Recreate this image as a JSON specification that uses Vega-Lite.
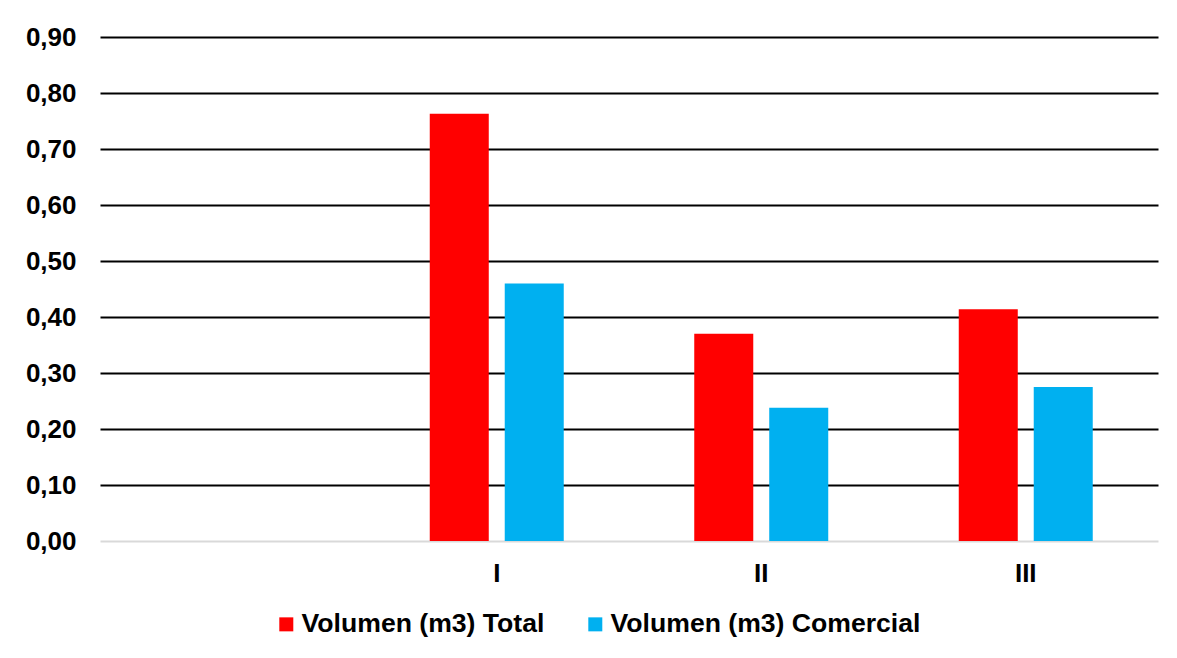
{
  "$schema": "https://vega.github.io/schema/vega-lite/v6.json",
  "width": 1058,
  "height": 504,
  "autosize": {"type": "none"},
  "padding": {"left": 100, "top": 37, "right": 19, "bottom": 117},
  "background": "white",
  "data": {
    "values": [
      {"clase": "I", "serie": "Volumen (m3) Total", "valor": 0.763},
      {"clase": "I", "serie": "Volumen (m3) Comercial", "valor": 0.46},
      {"clase": "II", "serie": "Volumen (m3) Total", "valor": 0.37},
      {"clase": "II", "serie": "Volumen (m3) Comercial", "valor": 0.238},
      {"clase": "III", "serie": "Volumen (m3) Total", "valor": 0.414},
      {"clase": "III", "serie": "Volumen (m3) Comercial", "valor": 0.275}
    ]
  },
  "mark": {"type": "bar"},
  "encoding": {
    "x": {
      "field": "clase",
      "type": "nominal",
      "title": null,
      "scale": {"domain": ["", "I", "II", "III"], "paddingInner": 0.4934, "paddingOuter": 0.2467},
      "axis": {
        "labelAngle": 0,
        "ticks": false,
        "domain": false,
        "labelPadding": 19,
        "labelFont": "Liberation Sans",
        "labelFontWeight": "bold",
        "labelFontSize": 26,
        "labelColor": "black"
      }
    },
    "xOffset": {
      "field": "serie",
      "type": "nominal",
      "sort": ["Volumen (m3) Total", "Volumen (m3) Comercial"],
      "scale": {"paddingInner": 0.213, "paddingOuter": 0}
    },
    "y": {
      "field": "valor",
      "type": "quantitative",
      "title": null,
      "scale": {"domain": [0, 0.9], "nice": false},
      "axis": {
        "values": [0, 0.1, 0.2, 0.3, 0.4, 0.5, 0.6, 0.7, 0.8, 0.9],
        "labelExpr": "replace(format(datum.value, '.2f'), '.', ',')",
        "ticks": false,
        "domain": false,
        "labelPadding": 24,
        "labelFont": "Liberation Sans",
        "labelFontWeight": "bold",
        "labelFontSize": 26,
        "labelColor": "black",
        "grid": true,
        "gridWidth": 2,
        "gridColor": {"condition": {"test": "datum.value === 0", "value": "#d9d9d9"}, "value": "black"},
        "gridOpacity": 1
      }
    },
    "color": {
      "field": "serie",
      "type": "nominal",
      "sort": ["Volumen (m3) Total", "Volumen (m3) Comercial"],
      "scale": {"domain": ["Volumen (m3) Total", "Volumen (m3) Comercial"], "range": ["#ff0000", "#00b0f0"]},
      "legend": {
        "title": null,
        "orient": "none",
        "legendX": 173,
        "legendY": 574,
        "direction": "horizontal",
        "symbolType": "square",
        "symbolSize": 196,
        "symbolStrokeWidth": 0,
        "labelFont": "Liberation Sans",
        "labelFontWeight": "bold",
        "labelFontSize": 26.6,
        "labelColor": "black",
        "labelOffset": 2,
        "columnPadding": 37,
        "labelLimit": 500
      }
    }
  },
  "config": {"view": {"stroke": null}}
}
